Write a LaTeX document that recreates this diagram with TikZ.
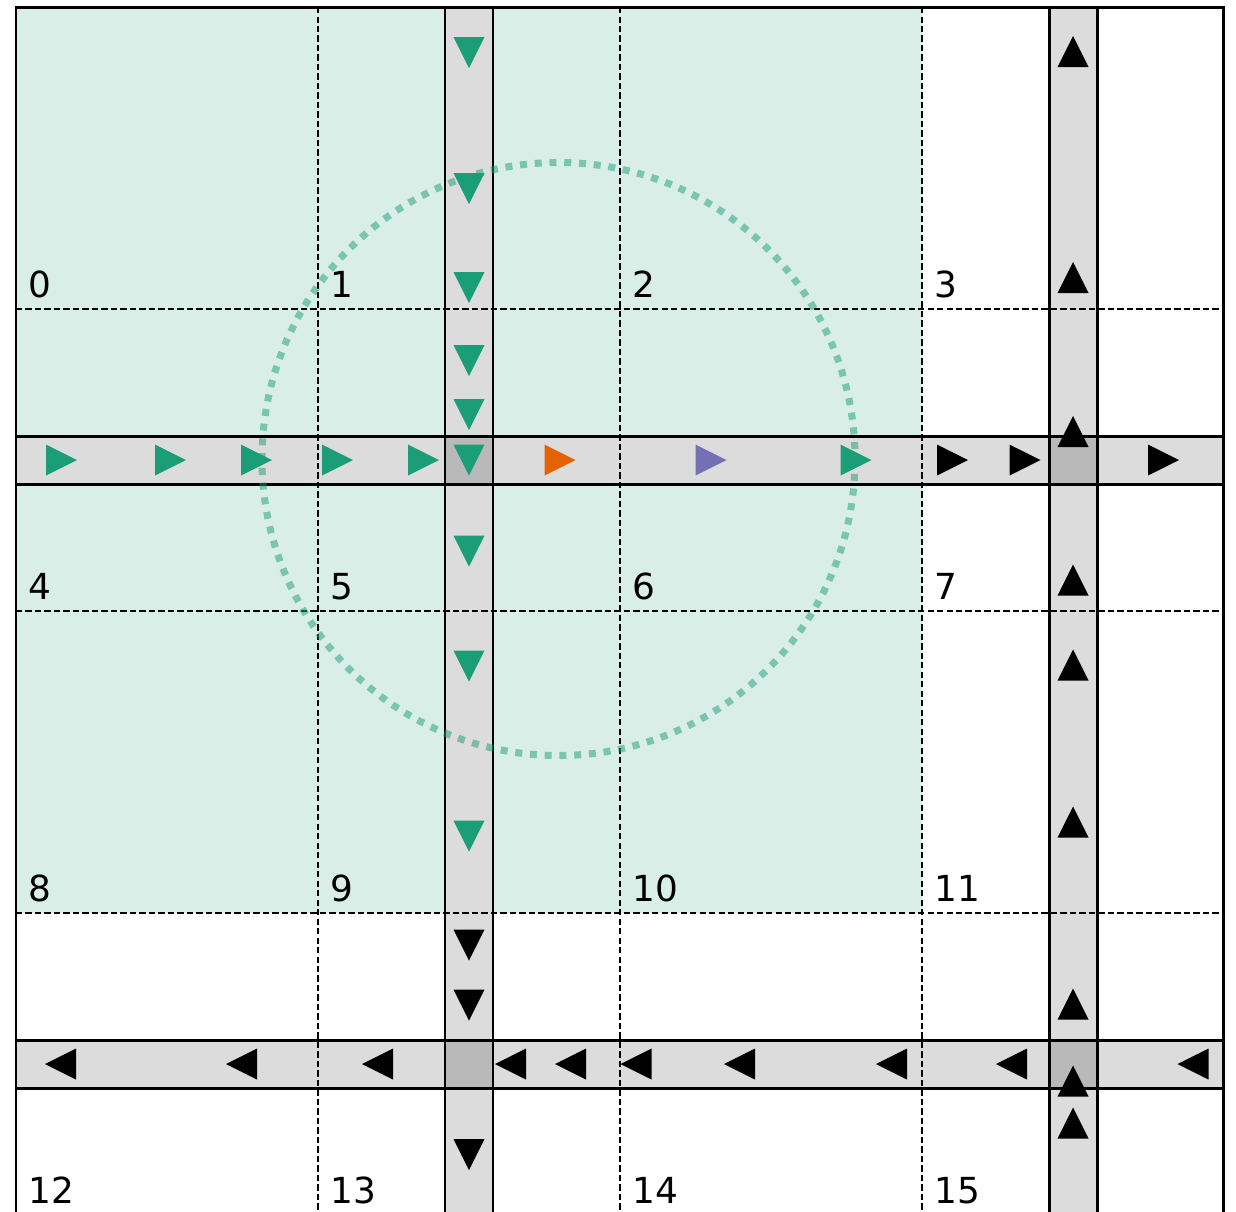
\documentclass[tikz,border=0pt]{standalone}
\usepackage{fontspec}
\setmainfont{DejaVu Sans}
\definecolor{vgreen}{HTML}{1B9E77}
\definecolor{vorange}{HTML}{E66101}
\definecolor{vpurple}{HTML}{7570B3}
\definecolor{zone}{RGB}{218,238,232}
\definecolor{lane}{RGB}{220,220,220}
\definecolor{junction}{RGB}{185,185,185}
\tikzset{
  carR/.pic={\fill (-15.5,-15.5) -- (15.5,0) -- (-15.5,15.5) -- cycle;},
  carL/.pic={\fill (15.5,-15.5) -- (-15.5,0) -- (15.5,15.5) -- cycle;},
  carD/.pic={\fill (-15.5,-15.5) -- (15.5,-15.5) -- (0,15.5) -- cycle;},
  carU/.pic={\fill (-15.5,15.5) -- (15.5,15.5) -- (0,-15.5) -- cycle;},
  cellno/.style={anchor=base west,inner sep=0pt,font=\fontsize{10.2}{12}\selectfont},
  edge/.style={line width=0.85pt},
  gridline/.style={line width=0.45pt,dash pattern=on 1.8pt off 0.9pt},
}
\begin{document}
\begin{tikzpicture}[x=0.01cm,y=-0.01cm]
  \useasboundingbox (0,0) rectangle (1236,1211);
  % communication range area
  \fill[zone] (16,7) rectangle (922,913);
  % roads
  \foreach \y in {460,1064}
    \fill[lane] (16,\y-24) rectangle (1223,\y+24);
  \foreach \x in {469,1073}
    \fill[lane] (\x-24,7) rectangle (\x+24,1215);
  \foreach \x in {469,1073}
    \foreach \y in {460,1064}
      \fill[junction] (\x-24,\y-24) rectangle (\x+24,\y+24);
  \foreach \y in {460,1064}
    \draw[edge] (16,\y-24) -- (1223,\y-24) (16,\y+24) -- (1223,\y+24);
  \foreach \x in {469,1073}
    \draw[edge] (\x-24,7) -- (\x-24,1215) (\x+24,7) -- (\x+24,1215);
  % cells
  \foreach \x in {318,620,922}
    \draw[gridline] (\x,7) -- (\x,1215);
  \foreach \y in {309,611,913}
    \draw[gridline] (16,\y) -- (1223,\y);
  \draw[edge] (16,1215) -- (16,7) -- (1223,7) -- (1223,1215);
  \foreach \r in {0,...,3}
    \foreach \c in {0,...,3} {
      \pgfmathtruncatemacro\n{4*\r+\c}
      \node[cellno] (c\n) at ({28+302*\c},{297+302*\r}) {\n};
    }
  % vehicles
  \foreach \x in {61.5,170.5,256.5,337.5,423.5,856}
    \pic[vgreen] at (\x,460) {carR};
  \pic[vorange] at (560,460) {carR};
  \pic[vpurple] at (711,460) {carR};
  \foreach \x in {952.5,1025,1163.5}
    \pic[black] at (\x,460) {carR};
  \foreach \y in {52.5,188.5,287.5,360.5,414.5,460,551,666,836}
    \pic[vgreen] at (469,\y) {carD};
  \foreach \y in {945,1005,1154.5}
    \pic[black] at (469,\y) {carD};
  \foreach \y in {51.5,277.5,431.5,580,665,822,1004,1081,1123}
    \pic[black] at (1073,\y) {carU};
  \foreach \x in {60.5,241.5,377.5,510.5,570.5,636,739.5,891.5,1011.5,1193}
    \pic[black] at (\x,1064) {carL};
  % range of the orange vehicle
  \draw[vgreen,opacity=0.5,line width=2pt,dash pattern=on 2pt off 2.2pt]
    (558.5,459) circle[radius=296.5];
\end{tikzpicture}
\end{document}
